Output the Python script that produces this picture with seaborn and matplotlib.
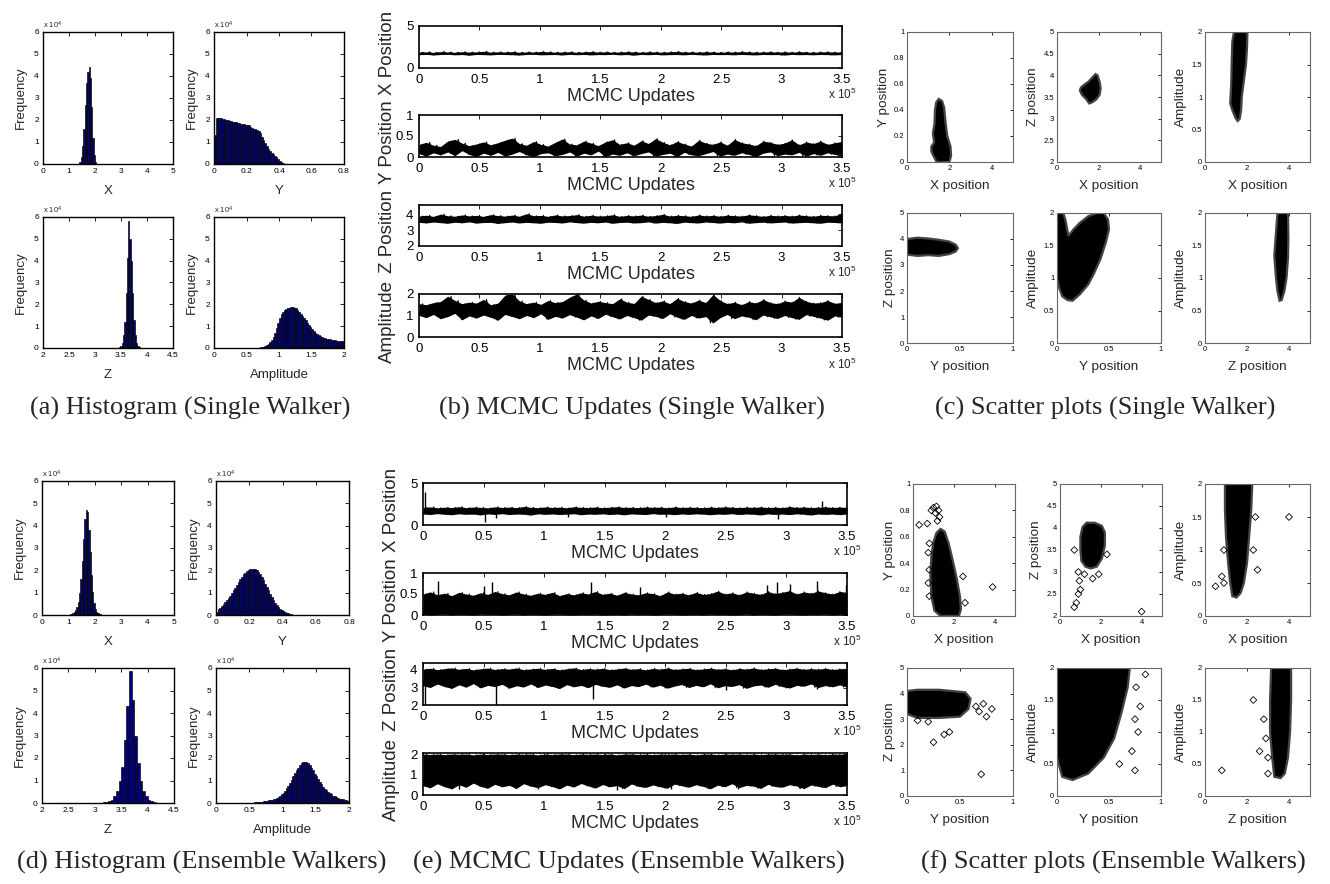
import numpy as np
import pandas as pd
import matplotlib
matplotlib.use("Agg")
import matplotlib.pyplot as plt
import seaborn as sns

# ---------------------------------------------------------------- data
# Histogram counts are in units of 10^4 samples per bin.
# Single walker
hx_s_start, hx_s_width = 1.30, 0.05
hx_s_counts = [0.0, 0.02, 0.1, 0.3, 0.8, 1.6, 2.7, 3.7, 4.2, 4.4, 3.9, 2.6, 1.2, 0.4, 0.08, 0.01]

hy_s_start, hy_s_width = 0.0, 0.01
hy_s_counts = [1.3, 2.1, 2.1, 2.1, 2.08, 2.05, 2.03, 2.0, 1.98, 1.96, 1.94, 1.93, 1.91, 1.89,
               1.87, 1.85, 1.83, 1.80, 1.80, 1.79, 1.78, 1.76, 1.70, 1.62, 1.58, 1.57, 1.55,
               1.50, 1.40, 1.25, 1.09, 0.95, 0.82, 0.70, 0.60, 0.52, 0.45, 0.38, 0.31, 0.23,
               0.15, 0.08, 0.03, 0.01]

hz_s_start, hz_s_width = 3.4625, 0.025
hz_s_counts = [0.05, 0.1, 0.25, 0.6, 1.2, 2.5, 4.1, 5.8, 5.0, 4.0, 2.5, 1.3, 0.6, 0.25, 0.1, 0.04]

ha_s_start, ha_s_width = 0.60, 0.025
ha_s_counts = [0.0, 0.01, 0.01, 0.02, 0.03, 0.04, 0.06, 0.08, 0.12, 0.18, 0.26, 0.37, 0.52,
               0.70, 0.92, 1.15, 1.36, 1.54, 1.67, 1.75, 1.80, 1.83, 1.85, 1.86, 1.86, 1.84,
               1.81, 1.75, 1.67, 1.58, 1.48, 1.37, 1.26, 1.15, 1.04, 0.94, 0.85, 0.77, 0.70,
               0.64, 0.58, 0.54, 0.50, 0.47, 0.45, 0.43, 0.41, 0.39, 0.38, 0.36, 0.35, 0.34,
               0.33, 0.32, 0.31, 0.30]

# Ensemble walkers
hx_e_start, hx_e_width = 0.90, 0.05
hx_e_counts = [0.01, 0.02, 0.02, 0.04, 0.06, 0.09, 0.14, 0.22, 0.36, 0.6, 1.0, 1.6, 2.4, 3.4,
               4.3, 4.7, 4.6, 3.8, 2.8, 1.8, 1.05, 0.55, 0.28, 0.14, 0.08, 0.05, 0.03, 0.02,
               0.01, 0.01]

hy_e_start, hy_e_width = 0.0, 0.01
hy_e_counts = [0.15, 0.25, 0.32, 0.40, 0.48, 0.57, 0.66, 0.76, 0.87, 0.98, 1.10, 1.23, 1.36,
               1.49, 1.61, 1.72, 1.82, 1.90, 1.97, 2.02, 2.05, 2.07, 2.07, 2.05, 2.01, 1.93,
               1.83, 1.70, 1.56, 1.41, 1.26, 1.10, 0.95, 0.80, 0.67, 0.55, 0.45, 0.36, 0.28,
               0.22, 0.17, 0.12, 0.09, 0.07, 0.05, 0.03, 0.02, 0.01, 0.01, 0.005]

hz_e_start, hz_e_width = 3.0, 0.05
hz_e_counts = [0.01, 0.01, 0.02, 0.03, 0.05, 0.08, 0.15, 0.3, 0.55, 1.0, 1.6, 2.8, 4.3, 5.85,
               4.6, 3.0, 1.8, 1.0, 0.55, 0.3, 0.15, 0.07, 0.03, 0.01]

ha_e_start, ha_e_width = 0.30, 0.025
ha_e_counts = [0.005, 0.005, 0.005, 0.006, 0.007, 0.008, 0.009, 0.01, 0.012, 0.015, 0.02,
               0.025, 0.03, 0.04, 0.05, 0.06, 0.07, 0.085, 0.1, 0.115, 0.13, 0.15, 0.17,
               0.2, 0.23, 0.27, 0.32, 0.38, 0.45, 0.55, 0.65, 0.77, 0.9, 1.04, 1.18, 1.32,
               1.45, 1.57, 1.68, 1.76, 1.82, 1.84, 1.82, 1.76, 1.68, 1.57, 1.45, 1.31, 1.18,
               1.05, 0.93, 0.83, 0.73, 0.64, 0.56, 0.49, 0.43, 0.38, 0.33, 0.29, 0.26, 0.23,
               0.2, 0.18, 0.16, 0.14, 0.13, 0.11]

# Trace envelopes (alternating low / high excursions), 60 segments over 3.5e5 updates
tx_s_lo = [1.58, 1.62, 1.55, 1.60, 1.63, 1.57, 1.60, 1.52, 1.61, 1.59, 1.56, 1.62, 1.60, 1.58, 1.54,
           1.61, 1.63, 1.57, 1.59, 1.60, 1.55, 1.62, 1.58, 1.61, 1.56, 1.60, 1.59, 1.63, 1.57, 1.60,
           1.53, 1.61, 1.58, 1.62, 1.56, 1.59, 1.60, 1.57, 1.62, 1.58, 1.55, 1.61, 1.59, 1.60, 1.57,
           1.62, 1.58, 1.56, 1.61, 1.59, 1.60, 1.54, 1.62, 1.58, 1.60, 1.57, 1.61, 1.59, 1.56, 1.60]
tx_s_hi = [1.88, 1.92, 1.86, 1.95, 1.90, 1.87, 1.93, 1.89, 1.91, 1.98, 1.88, 1.92, 1.90, 1.94, 1.87,
           1.91, 1.89, 1.96, 1.92, 1.88, 1.90, 1.93, 1.87, 1.91, 1.95, 1.89, 1.92, 1.88, 1.90, 1.94,
           1.91, 1.87, 1.93, 1.90, 1.88, 1.92, 1.97, 1.89, 1.91, 1.88, 1.93, 1.90, 1.87, 1.92, 1.89,
           1.95, 1.91, 1.88, 1.90, 1.93, 1.89, 1.92, 1.88, 1.94, 1.90, 1.87, 1.91, 1.93, 1.89, 1.92]

ty_s_lo = [0.08, 0.02, 0.10, 0.05, 0.12, 0.03, 0.15, 0.06, 0.01, 0.09, 0.04, 0.11, 0.02, 0.07, 0.13,
           0.05, 0.01, 0.08, 0.10, 0.03, 0.06, 0.12, 0.02, 0.09, 0.05, 0.14, 0.01, 0.07, 0.04, 0.10,
           0.03, 0.08, 0.12, 0.02, 0.06, 0.09, 0.01, 0.11, 0.05, 0.03, 0.08, 0.13, 0.02, 0.07, 0.04,
           0.10, 0.06, 0.01, 0.09, 0.12, 0.03, 0.07, 0.05, 0.11, 0.02, 0.08, 0.04, 0.10, 0.06, 0.03]
ty_s_hi = [0.30, 0.35, 0.28, 0.25, 0.38, 0.42, 0.33, 0.27, 0.31, 0.36, 0.29, 0.34, 0.40, 0.45, 0.32,
           0.28, 0.37, 0.30, 0.26, 0.35, 0.43, 0.31, 0.29, 0.38, 0.33, 0.27, 0.36, 0.41, 0.30, 0.34,
           0.28, 0.39, 0.32, 0.44, 0.35, 0.29, 0.37, 0.31, 0.26, 0.40, 0.33, 0.30, 0.36, 0.28, 0.42,
           0.34, 0.31, 0.27, 0.38, 0.35, 0.30, 0.33, 0.41, 0.29, 0.36, 0.32, 0.38, 0.30, 0.34, 0.37]

tz_s_lo = [3.50, 3.46, 3.52, 3.48, 3.44, 3.51, 3.47, 3.53, 3.45, 3.49, 3.50, 3.43, 3.48, 3.52, 3.46,
           3.50, 3.47, 3.44, 3.51, 3.49, 3.46, 3.53, 3.48, 3.45, 3.50, 3.47, 3.52, 3.44, 3.49, 3.51,
           3.46, 3.48, 3.53, 3.45, 3.50, 3.47, 3.43, 3.51, 3.48, 3.46, 3.52, 3.49, 3.45, 3.50, 3.47,
           3.53, 3.44, 3.48, 3.51, 3.46, 3.49, 3.52, 3.45, 3.48, 3.50, 3.47, 3.44, 3.51, 3.49, 3.46]
tz_s_hi = [3.90, 3.95, 3.88, 4.02, 3.92, 3.89, 3.97, 3.91, 3.94, 3.88, 3.99, 3.93, 3.90, 3.96, 3.89,
           4.05, 3.92, 3.94, 3.88, 3.97, 3.91, 3.93, 3.99, 3.89, 3.95, 3.90, 3.92, 3.98, 3.88, 3.94,
           3.91, 3.96, 3.89, 3.93, 4.01, 3.90, 3.95, 3.92, 3.88, 3.97, 3.91, 3.94, 3.89, 3.96, 3.92,
           3.90, 3.98, 3.93, 3.88, 3.95, 3.91, 3.94, 3.90, 3.97, 3.92, 3.89, 3.95, 3.93, 3.91, 4.10]

ta_s_lo = [1.00, 0.90, 1.05, 0.85, 0.95, 1.10, 0.80, 0.98, 0.88, 1.02, 0.92, 0.78, 1.05, 0.95, 0.85,
           1.00, 0.90, 1.08, 0.82, 0.96, 0.88, 1.04, 0.92, 0.80, 0.98, 0.86, 1.06, 0.94, 0.84, 1.00,
           0.90, 0.78, 1.02, 0.96, 0.86, 1.08, 0.92, 0.82, 1.00, 0.88, 0.95, 0.65, 0.90, 1.05, 0.85,
           0.98, 0.92, 0.80, 1.02, 0.94, 0.86, 1.00, 0.90, 0.82, 1.04, 0.96, 0.88, 0.78, 0.98, 0.92]
ta_s_hi = [1.55, 1.50, 1.60, 1.65, 1.90, 1.70, 1.55, 1.62, 1.58, 1.75, 1.50, 1.58, 1.95, 2.00, 1.68,
           1.55, 1.62, 1.52, 1.70, 1.60, 1.65, 1.85, 2.00, 1.72, 1.58, 1.66, 1.60, 1.55, 1.78, 1.62,
           1.56, 1.90, 1.75, 1.60, 1.68, 1.55, 1.80, 1.65, 1.58, 1.72, 1.60, 1.98, 1.70, 1.55, 1.62,
           1.50, 1.65, 1.58, 1.75, 1.60, 1.55, 1.68, 1.62, 1.85, 1.66, 1.58, 1.60, 1.70, 1.56, 1.62]

tx_e_lo = [1.30, 1.25, 1.35, 1.28, 1.22, 1.33, 1.27, 1.30, 1.20, 1.32, 1.26, 1.35, 1.24, 1.30, 1.28,
           1.18, 1.33, 1.27, 1.31, 1.25, 1.29, 1.34, 1.22, 1.30, 1.27, 1.33, 1.25, 1.30, 1.21, 1.32,
           1.28, 1.24, 1.35, 1.27, 1.30, 1.23, 1.31, 1.26, 1.33, 1.29, 1.22, 1.30, 1.27, 1.34, 1.25,
           1.31, 1.28, 1.20, 1.32, 1.26, 1.30, 1.24, 1.33, 1.28, 1.19, 1.31, 1.26, 1.30, 1.23, 1.32]
tx_e_hi = [2.10, 2.15, 2.05, 2.12, 2.08, 2.18, 2.06, 2.14, 2.10, 2.04, 2.16, 2.09, 2.13, 2.07, 2.20,
           2.11, 2.06, 2.15, 2.09, 2.12, 2.05, 2.17, 2.10, 2.08, 2.14, 2.06, 2.12, 2.18, 2.09, 2.11,
           2.07, 2.15, 2.10, 2.13, 2.05, 2.16, 2.08, 2.12, 2.10, 2.06, 2.14, 2.09, 2.17, 2.11, 2.07,
           2.13, 2.10, 2.15, 2.08, 2.12, 2.06, 2.19, 2.10, 2.14, 2.08, 2.11, 2.16, 2.09, 2.13, 2.10]
tx_e_spike_at = [0.02, 0.51, 0.60, 1.20, 2.01, 2.93, 3.29]
tx_e_spike_to = [3.90, 0.40, 0.80, 1.00, 0.90, 0.70, 2.80]

ty_e_lo = [0.02, 0.00, 0.01, 0.03, 0.00, 0.02, 0.01, 0.00, 0.03, 0.01, 0.02, 0.00, 0.01, 0.03, 0.00,
           0.02, 0.01, 0.00, 0.02, 0.03, 0.01, 0.00, 0.02, 0.01, 0.03, 0.00, 0.01, 0.02, 0.00, 0.03,
           0.01, 0.02, 0.00, 0.01, 0.03, 0.02, 0.00, 0.01, 0.02, 0.00, 0.03, 0.01, 0.02, 0.00, 0.01,
           0.03, 0.00, 0.02, 0.01, 0.00, 0.02, 0.03, 0.01, 0.00, 0.02, 0.01, 0.03, 0.00, 0.02, 0.01]
ty_e_hi = [0.50, 0.55, 0.48, 0.52, 0.46, 0.54, 0.50, 0.47, 0.53, 0.49, 0.56, 0.51, 0.48, 0.55, 0.50,
           0.47, 0.52, 0.49, 0.54, 0.46, 0.51, 0.48, 0.53, 0.50, 0.56, 0.49, 0.52, 0.47, 0.54, 0.50,
           0.48, 0.53, 0.51, 0.46, 0.55, 0.50, 0.52, 0.48, 0.54, 0.49, 0.51, 0.57, 0.50, 0.53, 0.48,
           0.55, 0.52, 0.49, 0.56, 0.51, 0.54, 0.58, 0.50, 0.55, 0.52, 0.57, 0.53, 0.50, 0.56, 0.54]
ty_e_spike_at = [0.12, 0.50, 0.57, 1.39, 1.79, 2.84, 2.92, 3.03, 3.25, 3.49]
ty_e_spike_to = [0.82, 0.68, 0.78, 0.78, 0.66, 0.72, 0.78, 0.75, 0.80, 0.72]

tz_e_lo = [3.10, 3.00, 3.20, 3.05, 2.95, 3.15, 3.02, 3.22, 2.98, 3.12, 3.05, 3.18, 2.96, 3.10, 3.03,
           3.20, 3.00, 3.14, 3.06, 2.94, 3.16, 3.04, 3.12, 2.99, 3.18, 3.07, 3.01, 3.15, 2.97, 3.11,
           3.05, 3.19, 3.02, 3.13, 2.96, 3.08, 3.17, 3.00, 3.12, 3.04, 3.21, 2.98, 3.10, 3.06, 3.16,
           2.95, 3.09, 3.14, 3.01, 3.18, 3.05, 2.97, 3.12, 3.07, 3.20, 3.00, 3.11, 3.04, 3.15, 3.02]
tz_e_hi = [4.05, 4.10, 4.02, 4.08, 4.12, 4.04, 4.09, 4.01, 4.07, 4.11, 4.03, 4.08, 4.05, 4.12, 4.02,
           4.06, 4.10, 4.04, 4.09, 4.01, 4.07, 4.12, 4.03, 4.08, 4.05, 4.10, 4.02, 4.06, 4.11, 4.04,
           4.08, 4.01, 4.09, 4.05, 4.12, 4.03, 4.07, 4.10, 4.02, 4.06, 4.11, 4.04, 4.08, 4.01, 4.09,
           4.05, 4.12, 4.03, 4.07, 4.10, 4.02, 4.06, 4.11, 4.04, 4.08, 4.05, 4.10, 4.03, 4.07, 4.09]
tz_e_spike_at = [0.02, 0.60, 1.40, 2.50, 3.25]
tz_e_spike_to = [2.00, 2.00, 2.35, 2.85, 2.90]

ta_e_lo = [0.45, 0.35, 0.55, 0.40, 0.30, 0.50, 0.38, 0.58, 0.42, 0.33, 0.52, 0.40, 0.47, 0.32, 0.55,
           0.43, 0.36, 0.50, 0.41, 0.30, 0.48, 0.39, 0.56, 0.44, 0.34, 0.51, 0.40, 0.46, 0.31, 0.54,
           0.42, 0.37, 0.49, 0.40, 0.33, 0.53, 0.45, 0.38, 0.50, 0.42, 0.30, 0.48, 0.40, 0.55, 0.36,
           0.47, 0.43, 0.32, 0.52, 0.41, 0.38, 0.50, 0.44, 0.31, 0.49, 0.42, 0.36, 0.53, 0.40, 0.46]
ta_e_hi = [2.00, 1.98, 2.00, 1.97, 2.00, 1.99, 2.00, 1.96, 2.00, 1.98, 2.00, 2.00, 1.97, 2.00, 1.99,
           2.00, 1.96, 2.00, 1.98, 2.00, 2.00, 1.97, 2.00, 1.99, 2.00, 1.98, 2.00, 1.96, 2.00, 2.00,
           1.98, 2.00, 1.97, 2.00, 1.99, 2.00, 1.98, 2.00, 1.96, 2.00, 2.00, 1.97, 2.00, 1.99, 2.00,
           1.98, 2.00, 1.97, 2.00, 2.00, 1.99, 2.00, 1.96, 2.00, 1.98, 2.00, 1.97, 2.00, 1.99, 2.00]
ta_e_spike_at = [0.30, 0.95, 1.60, 2.05, 2.60, 3.10]
ta_e_spike_to = [0.28, 0.30, 0.25, 0.30, 0.28, 0.32]

# Scatter clouds: outline of the dense region plus isolated samples
sc_yx_s = ([1.40, 1.30, 1.15, 1.15, 1.28, 1.22, 1.30, 1.32, 1.38, 1.50, 1.65, 1.75, 1.82, 1.90, 2.05, 2.08, 2.00],
           [0.00, 0.03, 0.08, 0.12, 0.15, 0.22, 0.30, 0.40, 0.46, 0.485, 0.47, 0.42, 0.30, 0.20, 0.12, 0.05, 0.00])
sc_zx_s = ([1.10, 1.20, 1.40, 1.55, 1.70, 1.90, 2.05, 2.10, 2.05, 1.95, 1.85, 1.70, 1.50, 1.30, 1.15],
           [3.65, 3.55, 3.45, 3.35, 3.38, 3.45, 3.55, 3.70, 3.85, 4.00, 4.03, 3.95, 3.85, 3.78, 3.72])
sc_ax_s = ([1.45, 1.55, 1.65, 1.72, 1.75, 1.85, 1.95, 2.00, 2.02, 1.38, 1.30, 1.27, 1.25, 1.20, 1.30],
           [0.68, 0.63, 0.66, 0.80, 1.00, 1.25, 1.50, 1.75, 2.00, 2.00, 1.85, 1.50, 1.20, 0.90, 0.80])
sc_zy_s = ([0.00, 0.10, 0.20, 0.30, 0.40, 0.46, 0.48, 0.46, 0.40, 0.30, 0.20, 0.10, 0.00],
           [3.40, 3.35, 3.38, 3.35, 3.42, 3.52, 3.65, 3.78, 3.90, 3.97, 4.02, 4.05, 4.00])
sc_ay_s = ([0.00, 0.06, 0.08, 0.11, 0.16, 0.22, 0.30, 0.38, 0.45, 0.49, 0.50, 0.47, 0.42, 0.35, 0.30,
            0.22, 0.15, 0.10, 0.05, 0.02, 0.00],
           [2.00, 2.00, 1.90, 1.65, 1.75, 1.85, 1.95, 2.00, 2.00, 1.90, 1.75, 1.55, 1.30, 1.05, 0.90,
            0.75, 0.65, 0.66, 0.72, 0.85, 1.00])
sc_az_s = ([3.55, 3.65, 3.78, 3.88, 3.95, 3.97, 3.95, 3.45, 3.38, 3.30, 3.38, 3.45],
           [0.65, 0.66, 0.80, 1.00, 1.30, 1.60, 2.00, 2.00, 1.70, 1.35, 1.00, 0.80])

sc_yx_e = ([1.35, 1.05, 0.90, 0.85, 0.90, 1.00, 1.15, 1.35, 1.55, 1.75, 1.95, 2.15, 2.30, 2.35, 2.25],
           [0.00, 0.04, 0.15, 0.30, 0.45, 0.56, 0.63, 0.66, 0.64, 0.55, 0.42, 0.28, 0.15, 0.05, 0.00])
out_yx_e = ([0.30, 0.70, 0.90, 1.00, 1.10, 1.15, 1.25, 1.30, 1.20, 0.80, 0.75, 0.80, 0.75, 0.80, 2.45, 2.55, 3.90],
            [0.69, 0.70, 0.80, 0.82, 0.78, 0.83, 0.80, 0.75, 0.72, 0.55, 0.48, 0.35, 0.25, 0.15, 0.30, 0.10, 0.22])
sc_zx_e = ([1.00, 1.05, 1.25, 1.50, 1.80, 2.05, 2.20, 2.20, 2.05, 1.70, 1.30, 1.10, 1.00],
           [3.50, 3.25, 3.12, 3.08, 3.12, 3.30, 3.60, 3.90, 4.05, 4.12, 4.12, 4.02, 3.80])
out_zx_e = ([0.90, 0.95, 1.00, 0.90, 0.80, 0.70, 1.20, 1.60, 1.90, 2.30, 4.00, 0.70],
            [3.00, 2.80, 2.60, 2.50, 2.30, 2.20, 2.95, 2.85, 2.95, 3.40, 2.10, 3.50])
sc_ax_e = ([1.30, 1.50, 1.70, 1.85, 2.00, 2.10, 2.20, 2.25, 0.95, 0.95, 1.00, 1.10, 1.20],
           [0.30, 0.28, 0.35, 0.50, 0.80, 1.20, 1.60, 2.00, 2.00, 1.60, 1.20, 0.80, 0.50])
out_ax_e = ([0.90, 0.80, 0.90, 2.30, 2.40, 2.50, 4.00, 0.50],
            [0.50, 0.60, 1.00, 1.00, 1.50, 0.70, 1.50, 0.45])
sc_zy_e = ([0.00, 0.10, 0.30, 0.50, 0.58, 0.60, 0.55, 0.30, 0.10, 0.00],
           [3.20, 3.05, 3.05, 3.10, 3.40, 3.80, 4.05, 4.15, 4.15, 4.10])
out_zy_e = ([0.10, 0.20, 0.25, 0.35, 0.65, 0.68, 0.72, 0.80, 0.75, 0.70, 0.40],
            [2.95, 2.90, 2.10, 2.40, 3.50, 3.30, 3.60, 3.40, 3.10, 0.85, 2.50])
sc_ay_e = ([0.05, 0.15, 0.30, 0.45, 0.55, 0.62, 0.68, 0.70, 0.00, 0.00],
           [0.30, 0.25, 0.35, 0.60, 0.90, 1.30, 1.70, 2.00, 2.00, 0.60])
out_ay_e = ([0.60, 0.72, 0.78, 0.75, 0.80, 0.85, 0.76, 0.75],
            [0.50, 0.70, 1.00, 1.20, 1.40, 1.90, 1.70, 0.40])
sc_az_e = ([3.30, 3.60, 3.80, 3.95, 4.05, 4.10, 4.10, 3.15, 3.10, 3.10, 3.20],
           [0.30, 0.28, 0.35, 0.60, 1.00, 1.50, 2.00, 2.00, 1.50, 1.00, 0.60])
out_az_e = ([0.80, 2.30, 2.60, 2.90, 3.00, 2.80, 3.00],
            [0.40, 1.50, 0.70, 0.90, 0.60, 1.20, 0.35])

captions_top = ["(a) Histogram (Single Walker)", "(b) MCMC Updates (Single Walker)",
                "(c) Scatter plots (Single Walker)"]
captions_bottom = ["(d) Histogram (Ensemble Walkers)", "(e) MCMC Updates (Ensemble Walkers)",
                   "(f) Scatter plots (Ensemble Walkers)"]

# ---------------------------------------------------------------- style
sns.set_style("white")
plt.rcParams["font.family"] = ["Liberation Sans", "DejaVu Sans"]
plt.rcParams["mathtext.fontset"] = "custom"
plt.rcParams["mathtext.rm"] = "Liberation Sans"
plt.rcParams["mathtext.it"] = "Liberation Sans"

NAVY = "#000080"
W, H = 1330, 884
fig = plt.figure(figsize=(W / 100, H / 100), dpi=100)


def axes_px(l, t, r, b):
    return fig.add_axes([l / W, 1 - b / H, (r - l) / W, (b - t) / H])


def fmt(v):
    return f"{v:g}"


def frame(ax, lw, color="k", size=6, pad=3, length=3):
    for s in ax.spines.values():
        s.set_visible(True)
        s.set_linewidth(lw)
        s.set_color(color)
    ax.tick_params(direction="in", top=True, right=True, length=length, width=0.6,
                   labelsize=size, pad=pad, colors="k")


def draw_hist(box, start, width, counts, xlim, xticks, xlabel):
    ax = axes_px(*box)
    counts = np.asarray(counts, dtype=float)
    n = len(counts)
    df = pd.DataFrame({"value": start + width * (np.arange(n) + 0.5), "count": counts})
    sns.histplot(data=df, x="value", weights="count", binwidth=width,
                 binrange=(start, start + width * n), color=NAVY, edgecolor="k",
                 linewidth=0.45, alpha=1.0, ax=ax)
    ax.set_xlim(*xlim)
    ax.set_ylim(0, 6)
    ax.set_xticks(xticks)
    ax.set_xticklabels([fmt(t) for t in xticks])
    ax.set_yticks(range(7))
    frame(ax, 1.0, size=6, pad=3)
    ax.set_ylabel("Frequency", fontsize=9.5, labelpad=5)
    ax.set_xlabel(xlabel, fontsize=9.5, labelpad=7)
    ax.text(0.0, 1.01, r"x 10$^{4}$", transform=ax.transAxes, fontsize=5.5,
            ha="left", va="bottom")
    return ax


def draw_trace(box, lo, hi, ylim, yticks, ylabel, spike_at=None, spike_to=None, base=None):
    ax = axes_px(*box)
    n = min(len(lo), len(hi))
    lo = np.asarray(lo[:n]); hi = np.asarray(hi[:n])
    y = np.column_stack([lo, hi]).ravel()
    x = np.linspace(0, 3.5, len(y))
    xs = np.linspace(0, 3.5, n)
    ax.fill_between(xs, lo, hi, color="k", lw=0)
    sns.lineplot(x=x, y=y, color="k", lw=0.7, ax=ax, sort=False)
    if spike_at is not None:
        ax.vlines(spike_at, base, spike_to, color="k", lw=1.0)
    ax.set_xlim(0, 3.5)
    ax.set_ylim(*ylim)
    xt = np.arange(0, 3.51, 0.5)
    ax.set_xticks(xt)
    ax.set_xticklabels([fmt(t) for t in xt])
    ax.set_yticks(yticks)
    ax.set_yticklabels([fmt(t) for t in yticks])
    frame(ax, 1.2, size=9.5, pad=4, length=3)
    ax.set_xlabel("MCMC Updates", fontsize=13, labelpad=2)
    ax.set_ylabel(ylabel, fontsize=13.5, labelpad=4)
    ax.yaxis.set_label_coords(-0.055, 0.36)
    ax.text(1.0, -0.64, r"x 10$^{5}$", transform=ax.transAxes, fontsize=8.5,
            ha="center", va="center")
    return ax


def draw_scatter(box, blob, out, xlim, xticks, ylim, yticks, xlabel, ylabel, edge="#444"):
    ax = axes_px(*box)
    ax.fill(blob[0], blob[1], facecolor="k", edgecolor=edge, lw=1.6, zorder=2)
    if out is not None:
        sns.scatterplot(x=out[0], y=out[1], marker="D", s=12, facecolor="none",
                        edgecolor="k", linewidth=0.6, ax=ax, zorder=3)
    ax.set_xlim(*xlim)
    ax.set_ylim(*ylim)
    ax.set_xticks(xticks)
    ax.set_xticklabels([fmt(t) for t in xticks])
    ax.set_yticks(yticks)
    ax.set_yticklabels([fmt(t) for t in yticks])
    frame(ax, 0.8, color="#666", size=5.5, pad=2, length=2)
    ax.set_xlabel(xlabel, fontsize=9.7, labelpad=6)
    ax.set_ylabel(ylabel, fontsize=9.7, labelpad=3)
    return ax


# ---------------------------------------------------------------- histograms
hist_sets = {
    "single": [(hx_s_start, hx_s_width, hx_s_counts), (hy_s_start, hy_s_width, hy_s_counts),
               (hz_s_start, hz_s_width, hz_s_counts), (ha_s_start, ha_s_width, ha_s_counts)],
    "ensemble": [(hx_e_start, hx_e_width, hx_e_counts), (hy_e_start, hy_e_width, hy_e_counts),
                 (hz_e_start, hz_e_width, hz_e_counts), (ha_e_start, ha_e_width, ha_e_counts)],
}
hist_boxes = {
    "single": [(43, 32, 173, 164), (214, 32, 344, 164), (43, 217, 173, 348), (214, 217, 344, 348)],
    "ensemble": [(42, 481, 174, 615), (216, 481, 349, 615), (42, 668, 174, 803), (216, 668, 349, 803)],
}
hist_specs = [((0, 5), [0, 1, 2, 3, 4, 5], "X"),
              ((0, 0.8), [0, 0.2, 0.4, 0.6, 0.8], "Y"),
              ((2, 4.5), [2, 2.5, 3, 3.5, 4, 4.5], "Z"),
              ((0, 2), [0, 0.5, 1, 1.5, 2], "Amplitude")]
for key in ["single", "ensemble"]:
    for box, (st, wd, cn), (xl, xt, lab) in zip(hist_boxes[key], hist_sets[key], hist_specs):
        draw_hist(box, st, wd, cn, xl, xt, lab)

# ---------------------------------------------------------------- traces
tb = [(419, 26, 842, 68), (419, 115, 842, 157), (419, 205, 842, 246), (419, 294, 842, 337)]
draw_trace(tb[0], tx_s_lo, tx_s_hi, (0, 5), [0, 5], "X Position")
draw_trace(tb[1], ty_s_lo, ty_s_hi, (0, 1), [0, 0.5, 1], "Y Position")
draw_trace(tb[2], tz_s_lo, tz_s_hi, (2, 4.6), [2, 3, 4], "Z Position")
draw_trace(tb[3], ta_s_lo, ta_s_hi, (0, 2), [0, 1, 2], "Amplitude")

te = [(423, 483, 847, 525), (423, 573, 847, 615), (423, 663, 847, 705), (423, 753, 847, 795)]
draw_trace(te[0], tx_e_lo, tx_e_hi, (0, 5), [0, 5], "X Position",
           spike_at=tx_e_spike_at, spike_to=tx_e_spike_to, base=1.7)
draw_trace(te[1], ty_e_lo, ty_e_hi, (0, 1), [0, 0.5, 1], "Y Position",
           spike_at=ty_e_spike_at, spike_to=ty_e_spike_to, base=0.3)
draw_trace(te[2], tz_e_lo, tz_e_hi, (2, 4.4), [2, 3, 4], "Z Position",
           spike_at=tz_e_spike_at, spike_to=tz_e_spike_to, base=3.6)
draw_trace(te[3], ta_e_lo, ta_e_hi, (0, 2.05), [0, 1, 2], "Amplitude",
           spike_at=ta_e_spike_at, spike_to=ta_e_spike_to, base=1.0)

# ---------------------------------------------------------------- scatter plots
X5 = ((0, 5), [0, 2, 4])
Y1 = ((0, 1), [0, 0.5, 1])
A2 = ((0, 2), [0, 0.5, 1, 1.5, 2])
rows = [
    ([(907, 32, 1013, 162), (1057, 32, 1161, 162), (1205, 32, 1310, 162)],
     [(907, 213, 1013, 343), (1057, 213, 1161, 343), (1205, 213, 1310, 343)],
     [sc_yx_s, sc_zx_s, sc_ax_s, sc_zy_s, sc_ay_s, sc_az_s], [None] * 6),
    ([(913, 484, 1015, 616), (1060, 484, 1162, 616), (1205, 484, 1310, 616)],
     [(907, 668, 1013, 796), (1057, 668, 1161, 796), (1205, 668, 1310, 796)],
     [sc_yx_e, sc_zx_e, sc_ax_e, sc_zy_e, sc_ay_e, sc_az_e],
     [out_yx_e, out_zx_e, out_ax_e, out_zy_e, out_ay_e, out_az_e]),
]
for top_boxes, bot_boxes, blobs, outs in rows:
    draw_scatter(top_boxes[0], blobs[0], outs[0], *X5, (0, 1), [0, 0.2, 0.4, 0.6, 0.8, 1],
                 "X position", "Y position")
    draw_scatter(top_boxes[1], blobs[1], outs[1], *X5, (2, 5), [2, 2.5, 3, 3.5, 4, 4.5, 5],
                 "X position", "Z position")
    draw_scatter(top_boxes[2], blobs[2], outs[2], *X5, *A2, "X position", "Amplitude")
    draw_scatter(bot_boxes[0], blobs[3], outs[3], *Y1, (0, 5), [0, 1, 2, 3, 4, 5],
                 "Y position", "Z position")
    draw_scatter(bot_boxes[1], blobs[4], outs[4], *Y1, *A2, "Y position", "Amplitude")
    draw_scatter(bot_boxes[2], blobs[5], outs[5], *X5, *A2, "Z position", "Amplitude")

# ---------------------------------------------------------------- captions
cap_font = dict(fontsize=19, family=["Liberation Serif", "DejaVu Serif"], ha="center", va="center")
for txt, cx in zip(captions_top, [190, 632, 1105]):
    fig.text(cx / W, 1 - 408 / H, txt, **cap_font)
for txt, cx in zip(captions_bottom, [202, 629, 1113]):
    fig.text(cx / W, 1 - 862 / H, txt, **cap_font)

fig.savefig("out.png", dpi=100)
